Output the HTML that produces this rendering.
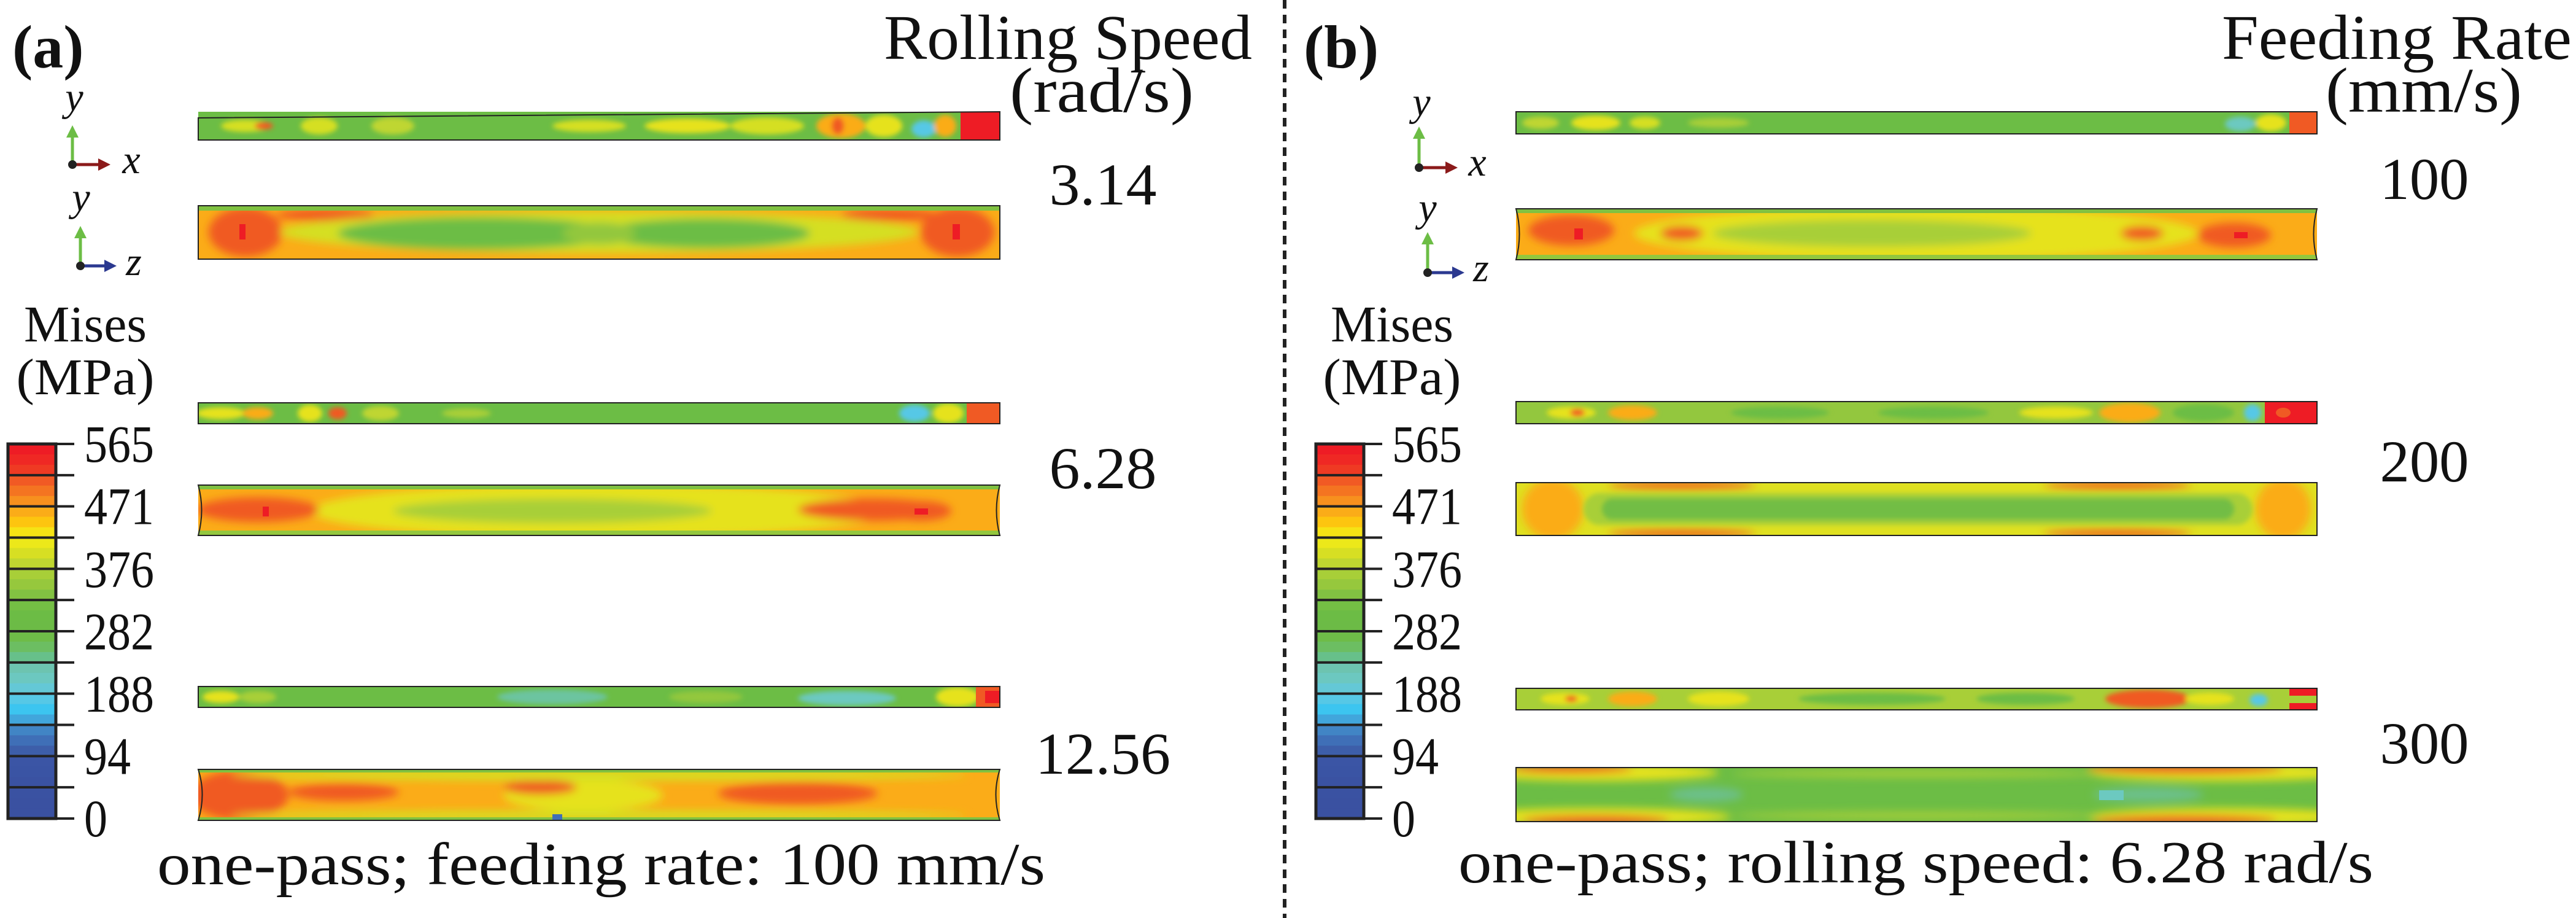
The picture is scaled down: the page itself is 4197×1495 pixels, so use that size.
<!DOCTYPE html>
<html><head><meta charset="utf-8"><style>
html,body{margin:0;padding:0;background:#fff}
svg{display:block}
text{font-family:"Liberation Serif",serif;fill:#111}
</style></head><body>
<svg id="fig" xmlns="http://www.w3.org/2000/svg" width="4197" height="1495" viewBox="0 0 4197 1495" font-family="Liberation Serif, serif">
<defs>
<filter id="b" x="-20%" y="-50%" width="140%" height="200%"><feGaussianBlur stdDeviation="7"/></filter>
<filter id="bs" x="-20%" y="-50%" width="140%" height="200%"><feGaussianBlur stdDeviation="4"/></filter>
<marker id="ag" markerWidth="4" markerHeight="4" refX="2" refY="2" orient="auto"><path d="M0,0 L4,2 L0,4 z" fill="#6cbd45"/></marker>
<marker id="ar" markerWidth="4" markerHeight="4" refX="2" refY="2" orient="auto"><path d="M0,0 L4,2 L0,4 z" fill="#8b1a1a"/></marker>
<marker id="ab" markerWidth="4" markerHeight="4" refX="2" refY="2" orient="auto"><path d="M0,0 L4,2 L0,4 z" fill="#2b3990"/></marker>
<clipPath id="cL1"><rect x="323" y="182" width="1306" height="46"/></clipPath>
<clipPath id="cL2"><rect x="323" y="335" width="1306" height="87"/></clipPath>
<clipPath id="cL3"><rect x="323" y="656" width="1306" height="34"/></clipPath>
<clipPath id="cL4"><rect x="323" y="790" width="1306" height="82"/></clipPath>
<clipPath id="cL5"><rect x="323" y="1118" width="1306" height="34"/></clipPath>
<clipPath id="cL6"><rect x="323" y="1253" width="1306" height="83"/></clipPath>
<clipPath id="cR1"><rect x="2470" y="182" width="1305" height="36"/></clipPath>
<clipPath id="cR2"><rect x="2470" y="340" width="1305" height="83"/></clipPath>
<clipPath id="cR3"><rect x="2470" y="654" width="1305" height="36"/></clipPath>
<clipPath id="cR4"><rect x="2470" y="786" width="1305" height="86"/></clipPath>
<clipPath id="cR5"><rect x="2470" y="1121" width="1305" height="35"/></clipPath>
<clipPath id="cR6"><rect x="2470" y="1250" width="1305" height="88"/></clipPath>
</defs>

<text x="20" y="110" font-size="100" font-weight="bold">(a)</text>
<text x="2124" y="110" font-size="100" font-weight="bold">(b)</text>
<text x="2040" y="96" font-size="104" text-anchor="end" textLength="600" lengthAdjust="spacingAndGlyphs">Rolling Speed</text>
<text x="1945" y="182" font-size="104" text-anchor="end" textLength="300" lengthAdjust="spacingAndGlyphs">(rad/s)</text>
<text x="4190" y="96" font-size="104" text-anchor="end" textLength="570" lengthAdjust="spacingAndGlyphs">Feeding Rate</text>
<text x="4109" y="182" font-size="104" text-anchor="end" textLength="320" lengthAdjust="spacingAndGlyphs">(mm/s)</text>

<text x="1797" y="333" font-size="96" text-anchor="middle" textLength="175" lengthAdjust="spacingAndGlyphs">3.14</text>
<text x="1797" y="795" font-size="96" text-anchor="middle" textLength="175" lengthAdjust="spacingAndGlyphs">6.28</text>
<text x="1797" y="1260" font-size="96" text-anchor="middle" textLength="220" lengthAdjust="spacingAndGlyphs">12.56</text>
<text x="3950" y="324" font-size="96" text-anchor="middle" textLength="145" lengthAdjust="spacingAndGlyphs">100</text>
<text x="3950" y="784" font-size="96" text-anchor="middle" textLength="145" lengthAdjust="spacingAndGlyphs">200</text>
<text x="3950" y="1243" font-size="96" text-anchor="middle" textLength="145" lengthAdjust="spacingAndGlyphs">300</text>

<text x="256" y="1440" font-size="98" textLength="1447" lengthAdjust="spacingAndGlyphs">one-pass; feeding rate: 100 mm/s</text>
<text x="2376" y="1437" font-size="98" textLength="1491" lengthAdjust="spacingAndGlyphs">one-pass; rolling speed: 6.28 rad/s</text>

<line x1="2093" y1="0" x2="2093" y2="1495" stroke="#222" stroke-width="6" stroke-dasharray="14 10"/>

<text x="139" y="556" font-size="84" text-anchor="middle" textLength="200" lengthAdjust="spacingAndGlyphs">Mises</text>
<text x="139" y="642" font-size="84" text-anchor="middle" textLength="225" lengthAdjust="spacingAndGlyphs">(MPa)</text>
<text x="2268" y="556" font-size="84" text-anchor="middle" textLength="200" lengthAdjust="spacingAndGlyphs">Mises</text>
<text x="2268" y="642" font-size="84" text-anchor="middle" textLength="225" lengthAdjust="spacingAndGlyphs">(MPa)</text>

<g>
<line x1="118" y1="268" x2="118" y2="214" stroke="#6cbd45" stroke-width="5" marker-end="url(#ag)"/>
<line x1="118" y1="268" x2="170" y2="268" stroke="#8b1a1a" stroke-width="5" marker-end="url(#ar)"/>
<circle cx="118" cy="268" r="7" fill="#222"/>
<text x="121" y="180" font-size="66" font-style="italic" text-anchor="middle">y</text>
<text x="214" y="282" font-size="66" font-style="italic" text-anchor="middle">x</text>
</g>
<g>
<line x1="131" y1="433" x2="131" y2="378" stroke="#6cbd45" stroke-width="5" marker-end="url(#ag)"/>
<line x1="131" y1="433" x2="180" y2="433" stroke="#2b3990" stroke-width="5" marker-end="url(#ab)"/>
<circle cx="131" cy="433" r="7" fill="#222"/>
<text x="132" y="343" font-size="66" font-style="italic" text-anchor="middle">y</text>
<text x="218" y="448" font-size="66" font-style="italic" text-anchor="middle">z</text>
</g>
<g>
<line x1="2312" y1="273" x2="2312" y2="216" stroke="#6cbd45" stroke-width="5" marker-end="url(#ag)"/>
<line x1="2312" y1="273" x2="2365" y2="273" stroke="#8b1a1a" stroke-width="5" marker-end="url(#ar)"/>
<circle cx="2312" cy="273" r="7" fill="#222"/>
<text x="2316" y="188" font-size="66" font-style="italic" text-anchor="middle">y</text>
<text x="2407" y="286" font-size="66" font-style="italic" text-anchor="middle">x</text>
</g>
<g>
<line x1="2326" y1="444" x2="2326" y2="388" stroke="#6cbd45" stroke-width="5" marker-end="url(#ag)"/>
<line x1="2326" y1="444" x2="2376" y2="444" stroke="#2b3990" stroke-width="5" marker-end="url(#ab)"/>
<circle cx="2326" cy="444" r="7" fill="#222"/>
<text x="2326" y="360" font-size="66" font-style="italic" text-anchor="middle">y</text>
<text x="2413" y="458" font-size="66" font-style="italic" text-anchor="middle">z</text>
</g>

<!-- LEFT PLATES -->
<g>
<g clip-path="url(#cL1)">
<rect x="323" y="182" width="1306" height="46" fill="#6cbd45"/>
<g filter="url(#bs)">
<ellipse cx="400" cy="205" rx="40" ry="10" fill="#d5df23"/><ellipse cx="430" cy="205" rx="15" ry="6" fill="#f05a24"/>
<ellipse cx="520" cy="205" rx="30" ry="14" fill="#d5df23"/><ellipse cx="640" cy="205" rx="35" ry="14" fill="#bfd630"/>
<ellipse cx="960" cy="205" rx="60" ry="10" fill="#d5df23"/><ellipse cx="1120" cy="205" rx="70" ry="12" fill="#e6e21c"/>
<ellipse cx="1250" cy="205" rx="60" ry="14" fill="#d5df23"/><ellipse cx="1370" cy="205" rx="40" ry="20" fill="#fbac18"/>
<ellipse cx="1365" cy="205" rx="10" ry="14" fill="#f05a24"/><ellipse cx="1440" cy="205" rx="30" ry="18" fill="#e6e21c"/>
<ellipse cx="1505" cy="210" rx="20" ry="14" fill="#56c8e6"/><ellipse cx="1540" cy="205" rx="18" ry="18" fill="#fbac18"/>
</g>
<rect x="1565" y="182" width="64" height="46" fill="#ee1c25"/>
</g>
<path d="M323,192 L1629,182 L1629,228 L323,228 z" fill="none" stroke="#222" stroke-width="2"/>
</g>

<g>
<g clip-path="url(#cL2)">
<rect x="323" y="335" width="1306" height="87" fill="#fbac18"/>
<g filter="url(#b)">
<ellipse cx="400" cy="378" rx="60" ry="40" fill="#f05a24"/><ellipse cx="1560" cy="378" rx="60" ry="40" fill="#f05a24"/>
<ellipse cx="530" cy="350" rx="80" ry="10" fill="#f05a24"/><ellipse cx="1450" cy="350" rx="80" ry="10" fill="#f05a24"/>
<ellipse cx="976" cy="378" rx="520" ry="34" fill="#d5df23"/>
<ellipse cx="780" cy="380" rx="230" ry="26" fill="#6cbd45"/><ellipse cx="1150" cy="380" rx="170" ry="24" fill="#6cbd45"/>
<ellipse cx="976" cy="380" rx="60" ry="18" fill="#93c73e"/>
</g>
<rect x="390" y="365" width="10" height="25" fill="#ee1c25"/><rect x="1552" y="365" width="12" height="25" fill="#ee1c25"/>
<rect x="323" y="335" width="1306" height="8" fill="#80c141"/>
</g>
<rect x="323" y="335" width="1306" height="87" fill="none" stroke="#222" stroke-width="2"/>
</g>

<g>
<g clip-path="url(#cL3)">
<rect x="323" y="656" width="1306" height="34" fill="#6cbd45"/>
<g filter="url(#bs)">
<ellipse cx="360" cy="673" rx="40" ry="10" fill="#e6e21c"/><ellipse cx="420" cy="673" rx="25" ry="10" fill="#fbac18"/>
<ellipse cx="505" cy="673" rx="20" ry="14" fill="#e6e21c"/><ellipse cx="550" cy="673" rx="15" ry="10" fill="#f05a24"/>
<ellipse cx="620" cy="673" rx="30" ry="12" fill="#bfd630"/><ellipse cx="760" cy="673" rx="40" ry="8" fill="#a8cf38"/>
<ellipse cx="1490" cy="673" rx="25" ry="14" fill="#56c8e6"/><ellipse cx="1545" cy="673" rx="25" ry="16" fill="#e6e21c"/>
</g>
<rect x="1575" y="656" width="54" height="34" fill="#f05a24"/>
</g>
<rect x="323" y="656" width="1306" height="34" fill="none" stroke="#222" stroke-width="2"/>
</g>

<g>
<g clip-path="url(#cL4)">
<rect x="323" y="790" width="1306" height="82" fill="#fbac18"/>
<g filter="url(#b)">
<ellipse cx="976" cy="832" rx="470" ry="44" fill="#e6e21c"/>
<ellipse cx="900" cy="832" rx="260" ry="20" fill="#a8cf38"/>
<ellipse cx="420" cy="830" rx="100" ry="20" fill="#f05a24"/><ellipse cx="1420" cy="830" rx="120" ry="18" fill="#f05a24"/>
<ellipse cx="1500" cy="832" rx="50" ry="16" fill="#f05a24"/>
</g>
<rect x="323" y="790" width="1306" height="7" fill="#80c141"/><rect x="323" y="864" width="1306" height="8" fill="#93c73e"/>
<rect x="428" y="825" width="10" height="16" fill="#ee1c25"/><rect x="1490" y="828" width="22" height="10" fill="#ee1c25"/>
</g>
<path d="M323,790 L1629,790 Q1618,831 1629,872 L323,872 Q334,831 323,790 z" fill="none" stroke="#222" stroke-width="2"/>
</g>

<g>
<g clip-path="url(#cL5)">
<rect x="323" y="1118" width="1306" height="34" fill="#6cbd45"/>
<g filter="url(#bs)">
<ellipse cx="360" cy="1135" rx="30" ry="10" fill="#e6e21c"/><ellipse cx="420" cy="1135" rx="30" ry="10" fill="#a8cf38"/>
<ellipse cx="900" cy="1135" rx="90" ry="12" fill="#6cc4a0"/><ellipse cx="1150" cy="1135" rx="60" ry="10" fill="#93c73e"/>
<ellipse cx="1380" cy="1137" rx="80" ry="12" fill="#6cc9c0"/><ellipse cx="1560" cy="1135" rx="35" ry="16" fill="#e6e21c"/>
</g>
<rect x="1590" y="1118" width="39" height="34" fill="#f05a24"/><rect x="1605" y="1125" width="24" height="20" fill="#ee1c25"/>
</g>
<rect x="323" y="1118" width="1306" height="34" fill="none" stroke="#222" stroke-width="2"/>
</g>

<g>
<g clip-path="url(#cL6)">
<rect x="323" y="1253" width="1306" height="83" fill="#fbac18"/>
<g filter="url(#b)">
<ellipse cx="390" cy="1295" rx="80" ry="40" fill="#f05a24"/>
<ellipse cx="560" cy="1290" rx="90" ry="14" fill="#f05a24"/>
<ellipse cx="950" cy="1295" rx="130" ry="26" fill="#e6e21c"/>
<ellipse cx="1300" cy="1292" rx="130" ry="18" fill="#f05a24"/>
<ellipse cx="880" cy="1282" rx="60" ry="12" fill="#f05a24"/>
<ellipse cx="976" cy="1262" rx="600" ry="9" fill="#d5df23"/>
<ellipse cx="976" cy="1328" rx="600" ry="8" fill="#d5df23"/>
</g>
<rect x="323" y="1253" width="1306" height="5" fill="#80c141"/><rect x="323" y="1331" width="1306" height="5" fill="#80c141"/>
<rect x="900" y="1326" width="16" height="10" fill="#3f6eb6"/>
</g>
<path d="M323,1253 L1629,1253 Q1616,1294 1629,1336 L323,1336 Q336,1294 323,1253 z" fill="none" stroke="#222" stroke-width="2"/>
</g>

<!-- RIGHT PLATES -->
<g>
<g clip-path="url(#cR1)">
<rect x="2470" y="182" width="1305" height="36" fill="#6cbd45"/>
<g filter="url(#bs)">
<ellipse cx="2510" cy="200" rx="30" ry="10" fill="#bfd630"/><ellipse cx="2600" cy="200" rx="40" ry="12" fill="#e6e21c"/>
<ellipse cx="2680" cy="200" rx="25" ry="10" fill="#d5df23"/><ellipse cx="2800" cy="200" rx="50" ry="8" fill="#a8cf38"/>
<ellipse cx="3650" cy="202" rx="25" ry="12" fill="#6cc9c0"/><ellipse cx="3700" cy="200" rx="25" ry="14" fill="#e6e21c"/>
</g>
<rect x="3730" y="182" width="45" height="36" fill="#f05a24"/>
</g>
<rect x="2470" y="182" width="1305" height="36" fill="none" stroke="#222" stroke-width="2"/>
</g>

<g>
<g clip-path="url(#cR2)">
<rect x="2470" y="340" width="1305" height="83" fill="#fbac18"/>
<g filter="url(#b)">
<ellipse cx="3122" cy="380" rx="460" ry="44" fill="#e6e21c"/>
<ellipse cx="3050" cy="380" rx="260" ry="22" fill="#a8cf38"/>
<ellipse cx="2560" cy="375" rx="70" ry="25" fill="#f05a24"/><ellipse cx="2740" cy="380" rx="35" ry="12" fill="#f05a24"/>
<ellipse cx="3490" cy="380" rx="35" ry="12" fill="#f05a24"/><ellipse cx="3640" cy="383" rx="60" ry="20" fill="#f05a24"/>
</g>
<rect x="2470" y="340" width="1305" height="7" fill="#80c141"/><rect x="2470" y="415" width="1305" height="8" fill="#93c73e"/>
<rect x="2565" y="372" width="14" height="18" fill="#ee1c25"/><rect x="3640" y="378" width="22" height="10" fill="#ee1c25"/>
</g>
<path d="M2470,340 L3775,340 Q3764,381 3775,423 L2470,423 Q2481,381 2470,340 z" fill="none" stroke="#222" stroke-width="2"/>
</g>

<g>
<g clip-path="url(#cR3)">
<rect x="2470" y="654" width="1305" height="36" fill="#93c73e"/>
<g filter="url(#bs)">
<ellipse cx="2560" cy="672" rx="40" ry="10" fill="#e6e21c"/><ellipse cx="2570" cy="672" rx="12" ry="6" fill="#f05a24"/>
<ellipse cx="2660" cy="672" rx="40" ry="12" fill="#fbac18"/><ellipse cx="2900" cy="672" rx="80" ry="10" fill="#6cbd45"/>
<ellipse cx="3150" cy="672" rx="90" ry="10" fill="#6cbd45"/><ellipse cx="3350" cy="672" rx="60" ry="10" fill="#e6e21c"/>
<ellipse cx="3470" cy="672" rx="50" ry="16" fill="#fbac18"/><ellipse cx="3590" cy="672" rx="50" ry="14" fill="#6cbd45"/>
<ellipse cx="3670" cy="672" rx="14" ry="14" fill="#56c8e6"/>
</g>
<rect x="3690" y="654" width="85" height="36" fill="#ee1c25"/><ellipse cx="3720" cy="672" rx="12" ry="8" fill="#f05a24"/>
</g>
<rect x="2470" y="654" width="1305" height="36" fill="none" stroke="#222" stroke-width="2"/>
</g>

<g>
<g clip-path="url(#cR4)">
<rect x="2470" y="786" width="1305" height="86" fill="#dfe021"/>
<g filter="url(#b)">
<ellipse cx="2530" cy="829" rx="50" ry="50" fill="#fbac18"/><ellipse cx="3720" cy="829" rx="45" ry="50" fill="#fbac18"/>
<ellipse cx="2740" cy="790" rx="120" ry="6" fill="#f05a24"/><ellipse cx="3450" cy="790" rx="120" ry="6" fill="#f05a24"/>
<ellipse cx="2740" cy="869" rx="120" ry="6" fill="#f05a24"/><ellipse cx="3450" cy="869" rx="120" ry="6" fill="#f05a24"/>
</g>
<rect x="2580" y="803" width="1090" height="52" rx="26" fill="#a8cf38" filter="url(#bs)"/>
<rect x="2610" y="812" width="1030" height="34" rx="17" fill="#72bd44" filter="url(#bs)"/>
</g>
<rect x="2470" y="786" width="1305" height="86" fill="none" stroke="#222" stroke-width="2"/>
</g>

<g>
<g clip-path="url(#cR5)">
<rect x="2470" y="1121" width="1305" height="35" fill="#a8cf38"/>
<g filter="url(#bs)">
<ellipse cx="2550" cy="1138" rx="40" ry="10" fill="#e6e21c"/><ellipse cx="2560" cy="1138" rx="10" ry="5" fill="#f05a24"/>
<ellipse cx="2660" cy="1138" rx="40" ry="12" fill="#fbac18"/><ellipse cx="2800" cy="1138" rx="50" ry="12" fill="#e6e21c"/>
<ellipse cx="3050" cy="1138" rx="120" ry="10" fill="#6cbd45"/><ellipse cx="3300" cy="1138" rx="80" ry="10" fill="#6cbd45"/>
<ellipse cx="3500" cy="1138" rx="70" ry="15" fill="#f05a24"/><ellipse cx="3600" cy="1138" rx="40" ry="10" fill="#e6e21c"/>
<ellipse cx="3680" cy="1140" rx="15" ry="10" fill="#56c8e6"/>
</g>
<rect x="3730" y="1121" width="45" height="12" fill="#ee1c25"/><rect x="3730" y="1145" width="45" height="11" fill="#ee1c25"/>
</g>
<rect x="2470" y="1121" width="1305" height="35" fill="none" stroke="#222" stroke-width="2"/>
</g>

<g>
<g clip-path="url(#cR6)">
<rect x="2470" y="1250" width="1305" height="88" fill="#6cbd45"/>
<g filter="url(#b)">
<ellipse cx="2600" cy="1258" rx="200" ry="14" fill="#e6e21c"/><ellipse cx="3620" cy="1258" rx="220" ry="14" fill="#e6e21c"/>
<ellipse cx="2600" cy="1330" rx="220" ry="14" fill="#e6e21c"/><ellipse cx="3620" cy="1330" rx="220" ry="14" fill="#e6e21c"/>
<ellipse cx="2560" cy="1252" rx="100" ry="7" fill="#f05a24"/><ellipse cx="3560" cy="1252" rx="160" ry="8" fill="#f05a24"/>
<ellipse cx="2600" cy="1336" rx="120" ry="8" fill="#f05a24"/><ellipse cx="3560" cy="1336" rx="150" ry="8" fill="#f05a24"/>
<ellipse cx="3122" cy="1260" rx="300" ry="6" fill="#a8cf38"/><ellipse cx="3122" cy="1328" rx="300" ry="6" fill="#a8cf38"/>
<ellipse cx="2780" cy="1294" rx="60" ry="12" fill="#6cc08a"/><ellipse cx="3500" cy="1294" rx="90" ry="12" fill="#6cc08a"/>
</g>
<rect x="3420" y="1287" width="40" height="16" fill="#6cc9c0"/>
</g>
<rect x="2470" y="1250" width="1305" height="88" fill="none" stroke="#222" stroke-width="2"/>
</g>
</svg>
<script>
const tickValues = [565, 471, 376, 282, 188, 94, 0];
const bandColors = ["#ee1c25","#ef2824","#ef3a23","#f15a24","#f47421","#f7901e","#fbac18","#fdc50f","#f6e314",
"#ece81a","#d7df23","#bfd630","#a8cf38","#96c83d","#82c242","#74be44","#6cbc45","#6cbb46",
"#6ebc48","#6cbe62","#67c08a","#6dc4b0","#6cc8c0","#64c8d6","#56c8e6","#3cc5f0","#41a6dc",
"#4185c5","#3f6fb7","#3d5ea9","#3b55a5","#3a54a4","#3a52a2","#3a52a2","#3a51a1","#3a51a1"];
const nSegments = 12;
const svg = document.getElementById('fig');
const NS = 'http://www.w3.org/2000/svg';
function mk(tag, attrs){const e=document.createElementNS(NS,tag);for(const k in attrs)e.setAttribute(k,attrs[k]);return e;}
const vmin = 0, vmax = 565;
function drawBar(x0, x1, y0, y1, side){
  const g = mk('g', {});
  
  
  const h = (y1 - y0) / bandColors.length;
  bandColors.forEach((c, i) => {
    const r = mk('rect', {x: x0, y: y0 + i*h, width: x1-x0, height: h+0.8, fill: c});
    
    
    g.appendChild(r);
  });
  for (let k = 0; k <= nSegments; k++) {
    const y = y0 + k*(y1-y0)/nSegments;
    g.appendChild(mk('line', {x1: x0, x2: x1+30, y1: y, y2: y, stroke: '#222', 'stroke-width': 4}));
  }
  g.appendChild(mk('rect', {x: x0, y: y0, width: x1-x0, height: y1-y0, fill: 'none', stroke: '#222', 'stroke-width': 5}));
  tickValues.forEach(v => {
    const y = y1 - (v - vmin)/(vmax - vmin)*(y1 - y0);
    const s = String(v);
    const t = mk('text', {x: x1+46, y: y+29, 'font-size': 86, textLength: s.length*38, lengthAdjust: 'spacingAndGlyphs'});
    
    
    t.textContent = s;
    g.appendChild(t);
  });
  svg.appendChild(g);
}
drawBar(13, 91, 723, 1333, 'left');
drawBar(2144, 2222, 723, 1333, 'right');
</script>
</body></html>
